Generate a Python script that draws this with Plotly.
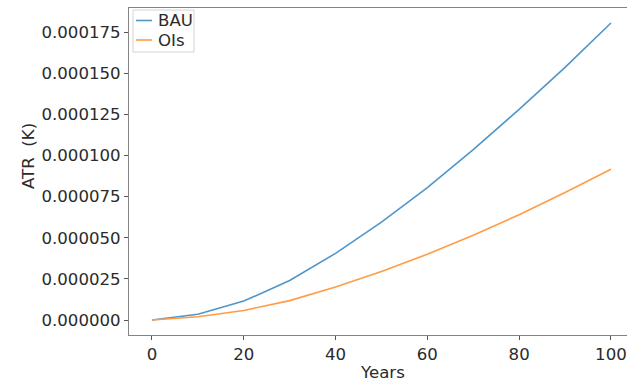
import plotly.graph_objects as go

years = [0, 10, 20, 30, 40, 50, 60, 70, 80, 90, 100]
bau = [0, 3.5e-6, 11.5e-6, 24e-6, 40.5e-6, 59.5e-6, 80.5e-6, 103.5e-6, 128e-6, 153.5e-6, 180.5e-6]
ois = [0, 2.0e-6, 5.8e-6, 11.8e-6, 20e-6, 29.5e-6, 40e-6, 51.5e-6, 64e-6, 77.5e-6, 91.6e-6]
series_names = ["BAU", "OIs"]
ytick_vals = [0, 25e-6, 50e-6, 75e-6, 100e-6, 125e-6, 150e-6, 175e-6]
ytick_text = ["0.000000", "0.000025", "0.000050", "0.000075", "0.000100", "0.000125", "0.000150", "0.000175"]
xtick_vals = [0, 20, 40, 60, 80, 100]

W, H = 627, 383
L, R, T, B = 129, 0, 8, 48
pw, ph = W - L - R, H - T - B
colors = ["#5095c8", "#ff9c45"]
txtc = "#2b2b2b"
fs = 16.6

def px(xp):
    return (xp - L) / pw

def py(yp):
    return (H - B - yp) / ph

font = "DejaVu Sans"
fig = go.Figure()
for name, vals, c in zip(series_names, [bau, ois], colors):
    fig.add_trace(go.Scatter(x=years, y=vals, mode="lines", name=name,
                             line=dict(color=c, width=1.6), showlegend=False))

shapes = []
annotations = []
# custom matplotlib-like legend box
shapes.append(dict(type="rect", xref="paper", yref="paper",
                   x0=px(133), x1=px(194), y0=py(52), y1=py(10),
                   line=dict(color="#d4d4d4", width=1), fillcolor="white", layer="above"))
for i, (name, c) in enumerate(zip(series_names, colors)):
    yc = 20.5 + i * 19.5
    shapes.append(dict(type="line", xref="paper", yref="paper",
                       x0=px(136), x1=px(152), y0=py(yc), y1=py(yc),
                       line=dict(color=c, width=1.6), layer="above"))
    annotations.append(dict(text=name, xref="paper", yref="paper",
                            x=px(156), y=py(yc), xanchor="left", yanchor="middle",
                            showarrow=False, font=dict(size=fs, color=txtc)))

annotations += [
    dict(text="Years", xref="paper", yref="paper",
         x=px(382.5), y=py(372.5), xanchor="center", yanchor="middle",
         showarrow=False, font=dict(size=fs, color=txtc)),
    dict(text="ATR  (K)", xref="paper", yref="paper", textangle=-90,
         x=px(28), y=py(156), xanchor="center", yanchor="middle",
         showarrow=False, font=dict(size=fs, color=txtc)),
]

fig.update_layout(
    width=W, height=H,
    margin=dict(l=L, r=R, t=T, b=B, pad=0),
    paper_bgcolor="white", plot_bgcolor="white",
    font=dict(family=font, size=fs, color=txtc),
    showlegend=False,
    xaxis=dict(range=[-5, -5 + pw / 4.59], tickvals=xtick_vals,
               showgrid=False, zeroline=False, showline=True, mirror=True,
               linecolor="#858585", linewidth=1, ticks="outside", ticklen=4,
               tickcolor="#555", tickfont=dict(size=fs, color=txtc), automargin=False),
    yaxis=dict(range=[-9.1e-6, 189.6e-6], tickvals=ytick_vals, ticktext=ytick_text,
               showgrid=False, zeroline=False, showline=True, mirror=False,
               linecolor="#858585", linewidth=1, ticks="outside", ticklen=4,
               tickcolor="#555", tickfont=dict(size=fs, color=txtc), automargin=False),
    shapes=shapes,
    annotations=annotations,
)

fig.write_html("out.html", config={"displayModeBar": False},
               post_script="document.body.style.margin='0';document.body.style.overflow='hidden';")
